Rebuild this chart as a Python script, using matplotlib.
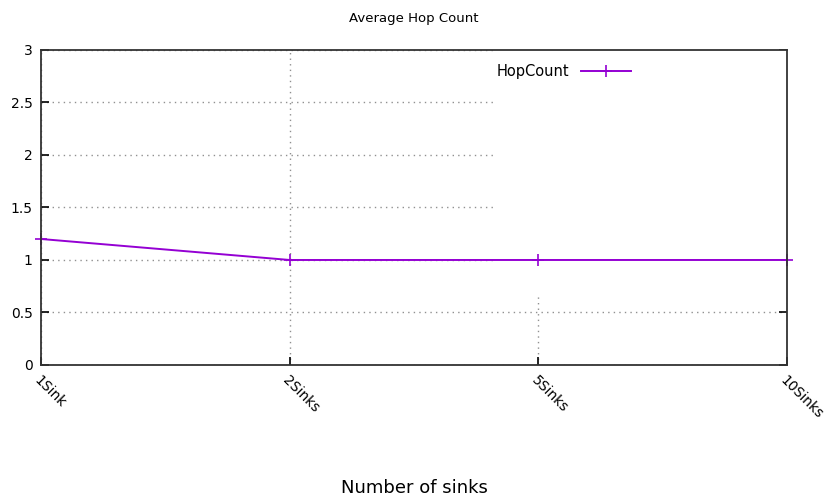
import matplotlib.pyplot as plt
from matplotlib.patches import Rectangle

categories = ['1Sink', '2Sinks', '5Sinks', '10Sinks']
hop_count = [1.2, 1.0, 1.0, 1.0]
y_ticks = [0, 0.5, 1, 1.5, 2, 2.5, 3]
y_labels = ['0', '0.5', '1', '1.5', '2', '2.5', '3']

fig = plt.figure(figsize=(8.31, 5.03), dpi=100)
ax = fig.add_axes([0.0493, 0.2744, 0.8977, 0.6262])

x = list(range(len(categories)))
ax.plot(x, hop_count, color='#9400d3', lw=1.4, marker='+', ms=9, mew=1.2,
        label='HopCount', zorder=4, clip_on=False)

ax.set_xlim(0, len(categories) - 1)
ax.set_ylim(0, 3)
ax.set_xticks(x)
ax.set_xticklabels(categories, rotation=-45, ha='left', va='top',
                   rotation_mode='anchor', fontsize=10)
ax.set_yticks(y_ticks)
ax.set_yticklabels(y_labels, fontsize=10)
ax.tick_params(axis='x', direction='in', length=6, width=1.2, pad=6)
ax.tick_params(axis='y', direction='in', length=6, width=1.2, right=True, pad=6)

ax.grid(True, color='#909090', linestyle=(0, (1, 3)), lw=1.0, zorder=1)
ax.set_axisbelow(True)

# opaque key area like gnuplot
ax.add_patch(Rectangle((0.609, 0.215), 0.391, 0.785, transform=ax.transAxes,
                       facecolor='white', edgecolor='none', zorder=2))

for s in ax.spines.values():
    s.set_color('#333333')
    s.set_linewidth(1.3)
    s.set_zorder(5)

ax.set_title('Average Hop Count', fontsize=9.5, pad=20)
ax.set_xlabel('Number of sinks', fontsize=13, labelpad=41)

ax.legend(loc='upper left', bbox_to_anchor=(0.603, 0.975), frameon=False,
          markerfirst=False, fontsize=10.5, handlelength=3.4, borderaxespad=0)

fig.savefig('out.png', dpi=100)
